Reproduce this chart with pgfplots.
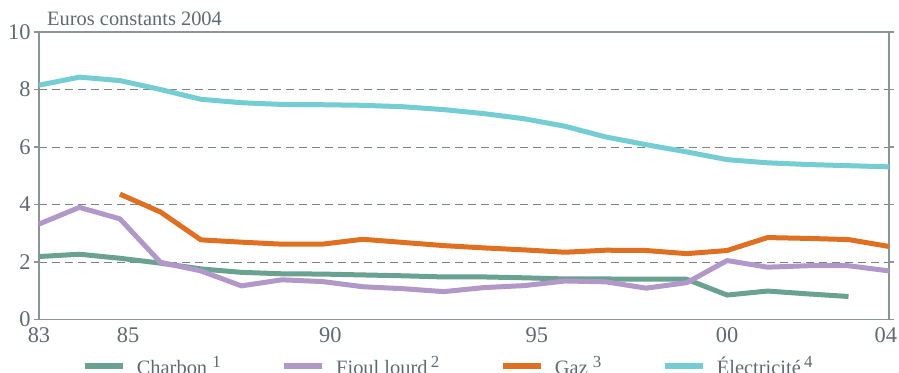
\documentclass[border=0pt]{standalone}
\usepackage{fontspec}
\setmainfont{Liberation Serif}
\usepackage{pgfplots}
\pgfplotsset{compat=1.18}
\definecolor{txtgray}{HTML}{5E6A70}
\definecolor{axgray}{HTML}{8C9498}
\definecolor{gridgray}{HTML}{7A8489}
\definecolor{charbon}{HTML}{6AA291}
\definecolor{fioul}{HTML}{B198C9}
\definecolor{gaz}{HTML}{E07021}
\definecolor{elec}{HTML}{74CDD3}
\newcommand{\supnum}[1]{\raisebox{6.5bp}{\fontsize{17}{17}\selectfont #1}}
\begin{document}
\begin{tikzpicture}
\path[use as bounding box] (0,0) rectangle (899bp,373bp);
\begin{axis}[
  at={(39bp,53.5bp)}, anchor=south west,
  scale only axis, width=850bp, height=287.5bp,
  xmin=1983, xmax=2004, ymin=0, ymax=10,
  xtick={1983,1985.2,1990.2,1995.3,2000,2003.92},
  xticklabels={83,85,90,95,00,04},
  ytick={0,2,4,6,8,10},
  /pgf/number format/assume math mode=true,
  tick label style={font=\fontsize{22.5}{22.5}\selectfont, text=txtgray},
  xtick style={draw=none},
  ytick style={draw=axgray, line width=1.2bp},
  tick align=outside, major tick length=5bp,
  axis line style={draw=axgray, line width=1.3bp},
  ymajorgrids, grid style={draw=gridgray, line width=0.9bp, dash pattern=on 8bp off 5bp},
  clip=false,
  legend columns=4,
  legend cell align=left,
  legend style={at={(0.5,-0.155)}, anchor=center, xshift=-16bp, yshift=-2bp,
    draw=none, fill=none,
    font=\fontsize{20.5}{20.5}\selectfont, text=txtgray,
    /tikz/every odd column/.append style={column sep=9bp},
    /tikz/every even column/.append style={column sep=58bp}},
  legend image code/.code={\draw[line width=6.5bp] (0bp,0bp) -- (38bp,0bp);},
  every axis plot/.append style={line width=5bp, line join=round},
]
\addplot[charbon] coordinates {
(1983,2.19) (1984,2.27) (1985,2.13) (1986,1.96) (1987,1.76) (1988,1.64)
(1989,1.59) (1990,1.58) (1991,1.55) (1992,1.52) (1993,1.48) (1994,1.48)
(1995,1.45) (1996,1.41) (1997,1.41) (1998,1.40) (1999,1.40) (2000,0.85)
(2001,0.99) (2002,0.89) (2003,0.80)};
\addlegendentry{Charbon \supnum{1}}
\addplot[fioul] coordinates {
(1983,3.32) (1984,3.90) (1985,3.50) (1986,1.99) (1987,1.69) (1988,1.17)
(1989,1.38) (1990,1.32) (1991,1.14) (1992,1.07) (1993,0.97) (1994,1.11)
(1995,1.18) (1996,1.34) (1997,1.31) (1998,1.09) (1999,1.28) (2000,2.05)
(2001,1.82) (2002,1.87) (2003,1.87) (2004,1.69)};
\addlegendentry{Fioul lourd\,\supnum{2}}
\addplot[gaz] coordinates {
(1985,4.36) (1986,3.74) (1987,2.77) (1988,2.69) (1989,2.62) (1990,2.62)
(1991,2.79) (1992,2.68) (1993,2.57) (1994,2.49) (1995,2.42) (1996,2.34)
(1997,2.41) (1998,2.40) (1999,2.29) (2000,2.40) (2001,2.85) (2002,2.82)
(2003,2.78) (2004,2.54)};
\addlegendentry{Gaz \supnum{3}}
\addplot[elec] coordinates {
(1983,8.15) (1984,8.43) (1985,8.31) (1986,8.00) (1987,7.66) (1988,7.54)
(1989,7.48) (1990,7.47) (1991,7.45) (1992,7.40) (1993,7.30) (1994,7.16)
(1995,6.98) (1996,6.72) (1997,6.35) (1998,6.08) (1999,5.83) (2000,5.56)
(2001,5.45) (2002,5.39) (2003,5.35) (2004,5.31)};
\addlegendentry{Électricité\,\supnum{4}}
\node[anchor=base west, text=txtgray, font=\fontsize{20.5}{20.5}\selectfont, inner sep=0pt]
  at (rel axis cs:0,1) [xshift=8bp, yshift=6.3bp] {Euros constants 2004};
\end{axis}
\end{tikzpicture}
\end{document}
